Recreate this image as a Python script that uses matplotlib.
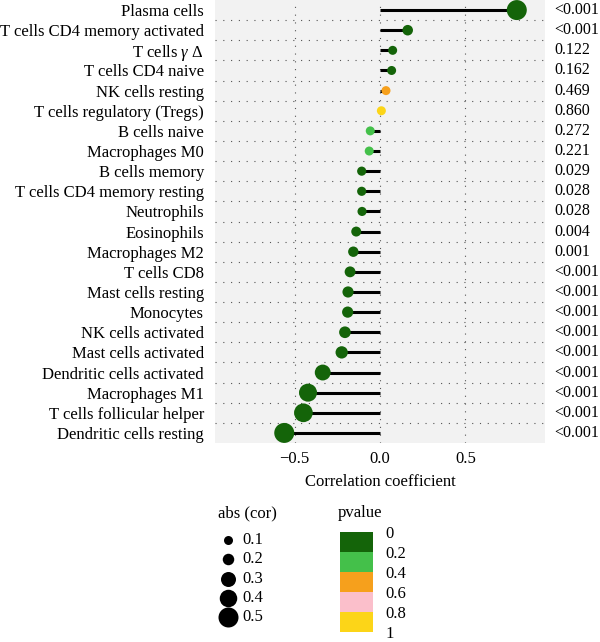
import numpy as np
import matplotlib
matplotlib.use('Agg')
import matplotlib.pyplot as plt
from matplotlib.colors import ListedColormap, BoundaryNorm
from matplotlib.colorbar import ColorbarBase
import matplotlib.transforms as mtransforms

plt.rcParams['font.family'] = ['Liberation Serif', 'DejaVu Serif']
plt.rcParams['mathtext.fontset'] = 'custom'
plt.rcParams['mathtext.rm'] = 'Liberation Serif'
plt.rcParams['mathtext.it'] = 'Liberation Serif:italic'

# cell types, top to bottom
cells = ["Plasma cells", "T cells CD4 memory activated", r"T cells $\mathit{\gamma}\ \mathit{\Delta}$",
         "T cells CD4 naive", "NK cells resting", "T cells regulatory (Tregs)", "B cells naive",
         "Macrophages M0", "B cells memory", "T cells CD4 memory resting", "Neutrophils",
         "Eosinophils", "Macrophages M2", "T cells CD8", "Mast cells resting", "Monocytes",
         "NK cells activated", "Mast cells activated", "Dendritic cells activated",
         "Macrophages M1", "T cells follicular helper", "Dendritic cells resting"]
cor = [0.80, 0.162, 0.074, 0.068, 0.035, 0.008, -0.057, -0.063, -0.107, -0.107, -0.105,
       -0.139, -0.156, -0.175, -0.187, -0.189, -0.205, -0.224, -0.335, -0.421, -0.448, -0.56]
pvalue = [0.0005, 0.0005, 0.122, 0.162, 0.469, 0.860, 0.272, 0.221, 0.029, 0.028, 0.028,
          0.004, 0.001, 0.0005, 0.0005, 0.0005, 0.0005, 0.0005, 0.0005, 0.0005, 0.0005, 0.0005]
pvalue_labels = ["<0.001", "<0.001", "0.122", "0.162", "0.469", "0.860", "0.272", "0.221",
                 "0.029", "0.028", "0.028", "0.004", "0.001", "<0.001", "<0.001", "<0.001",
                 "<0.001", "<0.001", "<0.001", "<0.001", "<0.001", "<0.001"]

size_breaks = [0.1, 0.2, 0.3, 0.4, 0.5]
size_px = [9, 11.5, 15, 17.5, 20]   # marker diameter (px) for each break
p_bounds = [0, 0.2, 0.4, 0.6, 0.8, 1.0]
p_colors = ["#146409", "#44c04a", "#f6a01c", "#fbbfcb", "#fcd518"]

cmap = ListedColormap(p_colors)
norm = BoundaryNorm(p_bounds, cmap.N)

def msize(v):
    d = np.interp(np.abs(v), size_breaks, size_px) * 0.72
    return d ** 2

fig = plt.figure(figsize=(6.0, 6.42), dpi=100)
ax = fig.add_axes([215 / 600, 1 - 443 / 642, 330 / 600, 443 / 642])
ax.set_facecolor('#f2f2f2')
for s in ax.spines.values():
    s.set_visible(False)

n = len(cells)
y = np.arange(n)[::-1]
cor = np.array(cor)

for xv in [-0.5, 0, 0.5]:
    ax.axvline(xv, color='#555555', lw=0.8, ls=(0, (1, 6)), zorder=1)
for k in range(n - 1):
    ax.axhline(k + 0.5, color='#555555', lw=0.8, ls=(0, (1, 6)), zorder=1)

ax.hlines(y, 0, cor, color='black', lw=2.2, zorder=2)
ax.scatter(cor, y, s=msize(cor), c=pvalue, cmap=cmap, norm=norm, zorder=3, linewidths=0)

ax.set_xlim(-0.965, 0.965)
ax.set_ylim(-0.5, n - 0.5)
ax.set_yticks(y)
ax.set_yticklabels(cells, fontsize=12)
ax.set_xticks([-0.5, 0, 0.5])
ax.set_xticklabels(["\u22120.5", "0.0", "0.5"], fontsize=12)
ax.tick_params(length=0, pad=8)
ax.tick_params(axis='x', pad=6)
ax.set_xlabel("Correlation coefficient", fontsize=12, labelpad=5)

trans = mtransforms.blended_transform_factory(ax.transAxes, ax.transData)
for yi, lab in zip(y, pvalue_labels):
    ax.text(1.027, yi, lab, transform=trans, ha='left', va='center', fontsize=11.5)

# size legend
lax = fig.add_axes([215 / 600, 1 - 630 / 642, 80 / 600, 125 / 642])
lax.axis('off')
lax.set_xlim(0, 80)
lax.set_ylim(125, 0)
fig.text(218 / 600, 1 - 513 / 642, "abs (cor)", fontsize=12, va='center')
for i, b in enumerate(size_breaks):
    ly = 35 + 19.3 * i
    lax.scatter([13], [ly], s=msize(b), color='black', linewidths=0)
    lax.text(27, ly, f"{b}", fontsize=12, va='center')

# p-value colour legend
fig.text(338 / 600, 1 - 513 / 642, "pvalue", fontsize=12, va='center')
cax = fig.add_axes([340 / 600, 1 - 632 / 642, 33 / 600, 100 / 642])
cb = ColorbarBase(cax, cmap=cmap, norm=norm, boundaries=p_bounds, ticks=p_bounds,
                  orientation='vertical')
cb.outline.set_visible(False)
cax.invert_yaxis()
cax.set_yticklabels(["0", "0.2", "0.4", "0.6", "0.8", "1"])
cax.tick_params(length=0, labelsize=12, pad=9)

fig.savefig("out.png", dpi=100)
